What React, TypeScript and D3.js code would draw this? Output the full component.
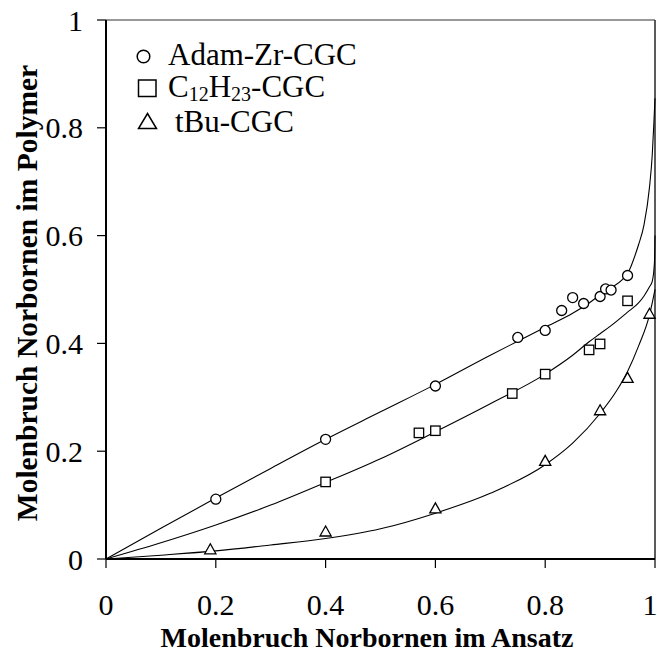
import * as d3 from 'd3'

const W = 657
const H = 654
const M = { left: 106, right: 655, top: 20, bottom: 559 }

// measured points
const adamPoints: [number, number][] = [
  [0.2, 0.111], [0.4, 0.222], [0.6, 0.321], [0.75, 0.411], [0.8, 0.424], [0.83, 0.461],
  [0.85, 0.485], [0.87, 0.474], [0.9, 0.487], [0.91, 0.501], [0.92, 0.499], [0.95, 0.526]
]
const c12Points: [number, number][] = [
  [0.4, 0.143], [0.57, 0.234], [0.6, 0.238], [0.74, 0.307], [0.8, 0.343], [0.88, 0.388],
  [0.9, 0.399], [0.95, 0.479]
]
const tbuPoints: [number, number][] = [
  [0.19, 0.018], [0.4, 0.051], [0.6, 0.094], [0.8, 0.182], [0.9, 0.276], [0.95, 0.336], [0.99, 0.455]
]

// fitted curves
const adamCurve: [number, number][] = [
  [0, 0], [0.1, 0.057], [0.2, 0.113], [0.3, 0.168], [0.4, 0.222], [0.5, 0.273], [0.6, 0.324],
  [0.7, 0.378], [0.75, 0.404], [0.8, 0.43], [0.85, 0.456], [0.88, 0.475], [0.9, 0.49],
  [0.92, 0.503], [0.94, 0.518], [0.95, 0.53], [0.955, 0.54], [0.96, 0.553], [0.97, 0.583],
  [0.98, 0.62], [0.99, 0.69], [0.995, 0.75], [0.998, 0.81], [1.0, 0.855]
]
const c12Curve: [number, number][] = [
  [0, 0], [0.1, 0.03], [0.2, 0.063], [0.3, 0.1], [0.4, 0.142], [0.5, 0.186], [0.6, 0.236],
  [0.7, 0.288], [0.8, 0.343], [0.85, 0.378], [0.88, 0.403], [0.9, 0.418], [0.92, 0.433],
  [0.95, 0.458], [0.97, 0.475], [0.98, 0.488], [0.99, 0.505], [0.995, 0.515], [0.999, 0.55],
  [1.0, 0.6]
]
const tbuCurve: [number, number][] = [
  [0, 0], [0.1, 0.007], [0.2, 0.015], [0.3, 0.026], [0.4, 0.038], [0.5, 0.056], [0.6, 0.085],
  [0.7, 0.122], [0.8, 0.175], [0.85, 0.215], [0.9, 0.27], [0.93, 0.312], [0.95, 0.348],
  [0.97, 0.395], [0.99, 0.453], [1.0, 0.5]
]

const xTicks = [0, 0.2, 0.4, 0.6, 0.8, 1]
const yTicks = [0, 0.2, 0.4, 0.6, 0.8, 1]
const FONT = '"Liberation Serif", "Times New Roman", serif'

export default function App() {
  const x = d3.scaleLinear().domain([0, 1]).range([M.left, M.right])
  const y = d3.scaleLinear().domain([0, 1]).range([M.bottom, M.top])

  const line = d3.line<[number, number]>()
    .x(d => x(d[0]))
    .y(d => y(d[1]))
    .curve(d3.curveMonotoneX)

  return (
    <svg width={W} height={H} style={{ position: 'absolute', left: 0, top: 0, background: '#fff' }} fontFamily={FONT}>
      {/* frame top/right */}
      <line x1={M.left} x2={M.right} y1={M.top} y2={M.top} stroke="#333" strokeWidth={1.2} />
      <line x1={M.right} x2={M.right} y1={M.top} y2={M.bottom} stroke="#333" strokeWidth={1.6} />

      {/* curves */}
      {[adamCurve, c12Curve, tbuCurve].map((c, i) => (
        <path key={i} d={line(c) || ''} fill="none" stroke="#000" strokeWidth={1.1} />
      ))}

      {/* axes */}
      <line x1={M.left} x2={M.left} y1={M.top} y2={M.bottom} stroke="#000" strokeWidth={2} />
      <line x1={M.left} x2={M.right} y1={M.bottom} y2={M.bottom} stroke="#000" strokeWidth={2} />
      {yTicks.map(t => (
        <g key={'y' + t}>
          <line x1={M.left - 9} x2={M.left} y1={y(t)} y2={y(t)} stroke="#000" strokeWidth={1.2} />
          <text x={83} y={y(t)} dy="0.35em" textAnchor="end" fontSize={30}>{t}</text>
        </g>
      ))}
      {xTicks.map(t => (
        <g key={'x' + t}>
          <line x1={x(t)} x2={x(t)} y1={M.bottom} y2={M.bottom + 9} stroke="#000" strokeWidth={1.2} />
          <text x={t === 1 ? x(t) - 5 : x(t)} y={615} textAnchor="middle" fontSize={30}>{t}</text>
        </g>
      ))}

      {/* markers */}
      {adamPoints.map((d, i) => (
        <circle key={'a' + i} cx={x(d[0])} cy={y(d[1])} r={5} fill="#fff" stroke="#000" strokeWidth={1.3} />
      ))}
      {c12Points.map((d, i) => (
        <rect key={'c' + i} x={x(d[0]) - 4.7} y={y(d[1]) - 4.7} width={9.4} height={9.4} fill="#fff" stroke="#000" strokeWidth={1.3} />
      ))}
      {tbuPoints.map((d, i) => {
        const cx = x(d[0]), cy = y(d[1])
        return (
          <path key={'t' + i} d={`M${cx},${cy - 5.5}L${cx + 5.6},${cy + 4.5}L${cx - 5.6},${cy + 4.5}Z`} fill="#fff" stroke="#000" strokeWidth={1.3} />
        )
      })}

      {/* legend */}
      <circle cx={143.5} cy={56.5} r={6.3} fill="none" stroke="#000" strokeWidth={1.5} />
      <text x={168} y={65} fontSize={31}>Adam-Zr-CGC</text>
      <rect x={138.5} y={80} width={17.5} height={16.5} fill="none" stroke="#000" strokeWidth={1.5} />
      <text x={168} y={97} fontSize={31}>
        C<tspan fontSize={20} dy={4}>12</tspan><tspan dy={-4}>H</tspan><tspan fontSize={20} dy={4}>23</tspan><tspan dy={-4}>-CGC</tspan>
      </text>
      <path d="M147.5,113.5L156.5,128.5L138.5,128.5Z" fill="none" stroke="#000" strokeWidth={1.5} />
      <text x={175} y={132} fontSize={31}>tBu-CGC</text>

      {/* axis titles */}
      <text x={367} y={647} textAnchor="middle" fontSize={28} fontWeight="bold">Molenbruch Norbornen im Ansatz</text>
      <text transform="translate(37,293) rotate(-90)" textAnchor="middle" fontSize={29.5} fontWeight="bold">Molenbruch Norbornen im Polymer</text>
    </svg>
  )
}
